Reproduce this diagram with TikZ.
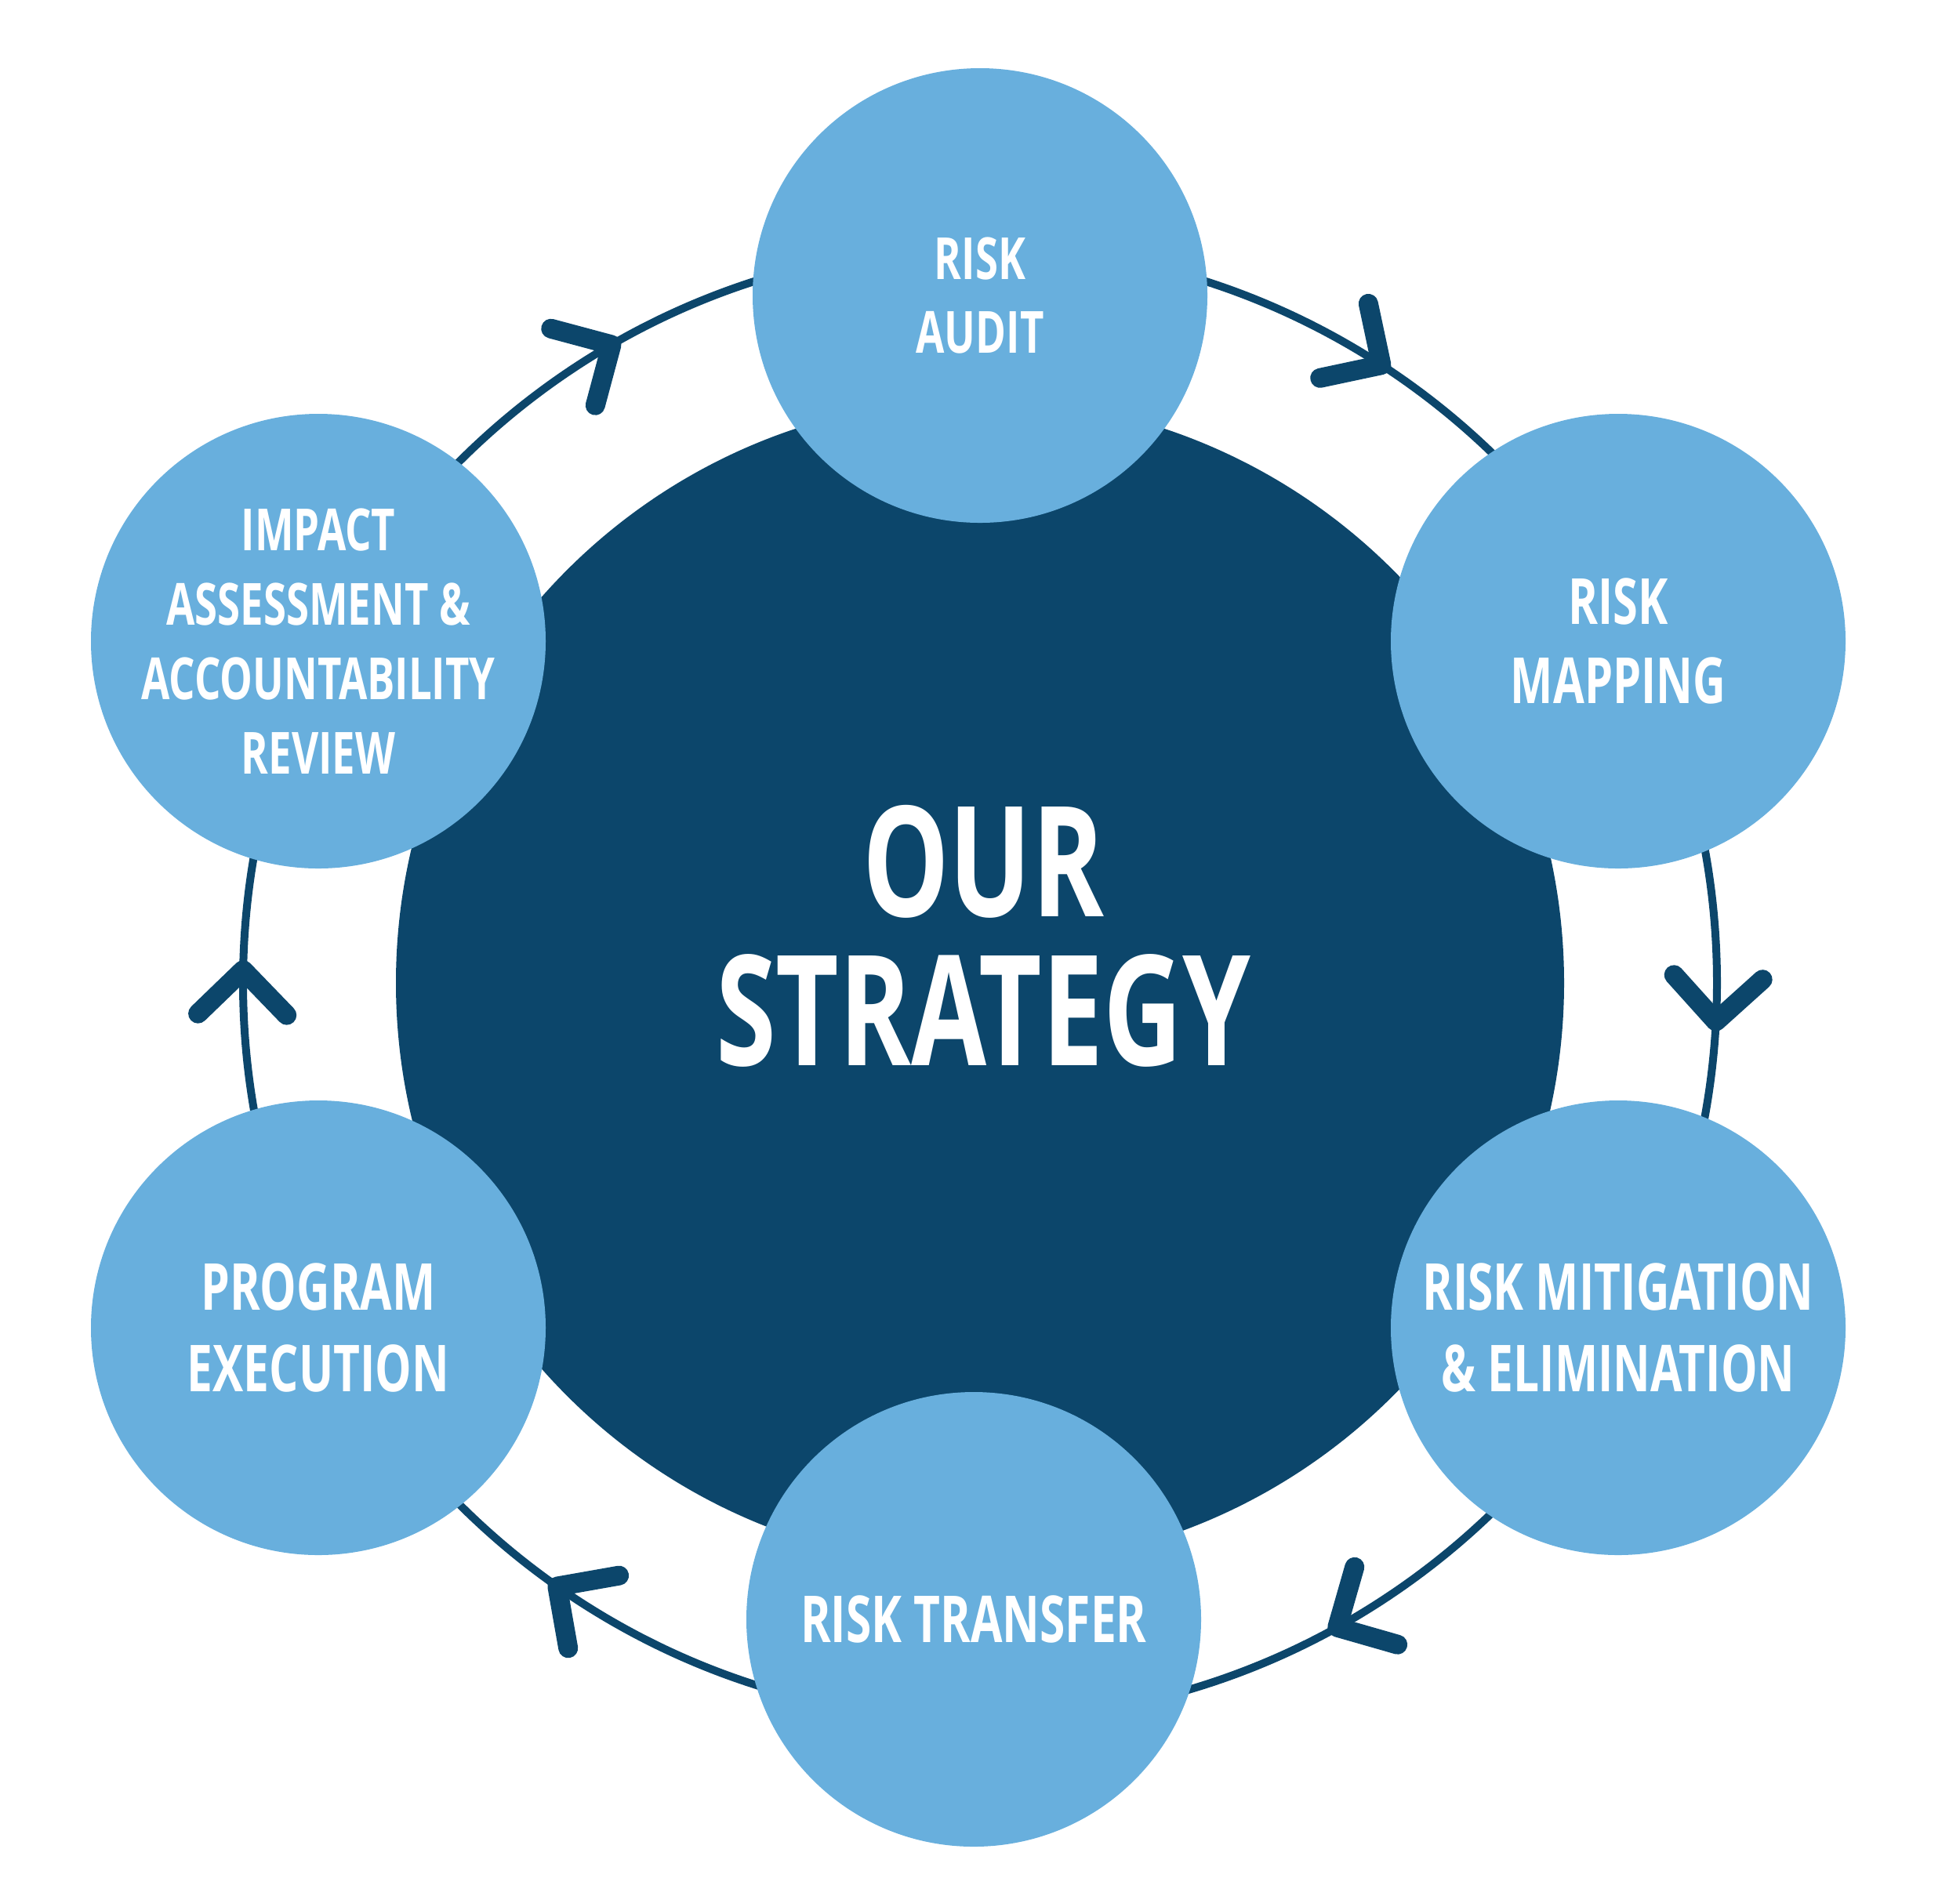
\documentclass[tikz,border=0pt]{standalone}
\usepackage{fontspec}
\setmainfont{Open Sans}
\newfontfamily\stagefont{Open Sans}[FakeStretch=0.71]
\newfontfamily\hubfont{Open Sans}[FakeStretch=0.71]
\definecolor{navy}{RGB}{12,70,107}
\definecolor{sky}{RGB}{104,175,221}
\tikzset{
    stage/.style={circle, fill=sky, minimum size=5.8cm, inner sep=0pt,
        text=white, align=center},
    small/.style={font=\stagefont\bfseries\fontsize{21.1}{27}\selectfont},
    large/.style={font=\stagefont\bfseries\fontsize{23.5}{29.4}\selectfont},
    ring/.style={draw=navy, line width=0.1cm},
    chev/.style={draw=navy, line width=0.25cm, line cap=round, line join=round}
}
\begin{document}
\begin{tikzpicture}
    \useasboundingbox (0,0) rectangle (25,-24.18);
    %% cycle
    \draw [ring] (12.5,-12.54) circle (9.4);
    %% hub
    \node [circle, fill=navy, minimum size=14.9cm, inner sep=0pt] (hub) at (12.5,-12.54) {};
    \node [text=white, align=center, inner sep=0pt,
        font=\hubfont\bfseries\fontsize{55.8}{54}\selectfont] (title) at (12.54,-11.94) {OUR\\STRATEGY};

    %% arrows on the cycle
    \foreach \a in {120,57,-3,-61,235,179}
        \draw [chev] (hub.center) ++(\a:9.4) ++(\a+45:0.8) -- ++(\a+225:0.8) -- ++(\a+135:0.8);

    %% stages
    \node [stage, small] (audit)    at (12.50,-3.77)  {RISK\\AUDIT};
    \node [stage, font=\stagefont\bfseries\fontsize{23.1}{29}\selectfont]
                         (mapping)  at (20.64,-8.18)  {RISK\\MAPPING};
    \node [stage, large] (mitigate) at (20.64,-16.94) {RISK MITIGATION\\\& ELIMINATION};
    \node [stage, large] (transfer) at (12.42,-20.66) {RISK TRANSFER};
    \node [stage, large] (program)  at (4.06,-16.94)  {PROGRAM\\EXECUTION};
    \node [stage, small] (impact)   at (4.06,-8.18)   {IMPACT\\ASSESSMENT \&\\ACCOUNTABILITY\\REVIEW};
\end{tikzpicture}
\end{document}
